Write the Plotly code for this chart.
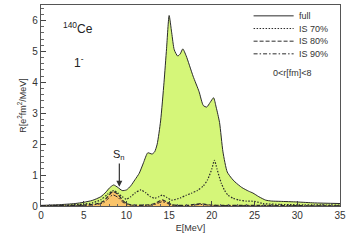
import plotly.graph_objects as go

# Energy grid (MeV) and strength values R [e^2 fm^2 / MeV]
E_full = [0, 2, 4, 5, 6, 7, 7.6, 8.0, 8.5, 9.0, 9.5, 10.0, 10.5, 11.0, 11.5, 12.0, 12.5,
          13.0, 13.3, 13.6, 14.0, 14.4, 14.7, 15.0, 15.3, 15.6, 16.0, 16.3, 16.6, 17.0,
          17.8, 18.5, 19.0, 19.4, 19.8, 20.2, 20.5, 20.9, 21.3, 21.8, 22.3, 22.7, 23.5,
          24.3, 24.8, 25.5, 26.3, 27.0, 28.0, 30.0, 32.0, 35.0]
R_full = [0.02, 0.04, 0.08, 0.12, 0.18, 0.30, 0.45, 0.58, 0.68, 0.60, 0.50, 0.52, 0.65,
          0.85, 1.06, 1.40, 1.72, 1.68, 1.75, 2.00, 2.75, 4.00, 5.10, 6.16, 5.60, 5.05,
          4.85, 4.92, 5.08, 4.85, 4.20, 3.70, 3.25, 3.20, 3.35, 3.50, 3.20, 2.70, 1.75,
          1.10, 0.90, 0.78, 0.60, 0.48, 0.42, 0.30, 0.19, 0.16, 0.15, 0.13, 0.10, 0.08]

E_is70 = [0, 3, 5, 6, 7, 7.8, 8.5, 9.0, 9.5, 10.0, 10.5, 11.0, 11.7, 12.3, 12.8, 13.3,
          13.8, 14.2, 14.7, 15.3, 16.3, 17.0, 17.6, 18.3, 19.0, 19.5, 20.0, 20.3, 20.6,
          21.1, 21.5, 21.9, 22.5, 23.2, 24.0, 25.0, 26.0, 28.0, 30.0, 35.0]
R_is70 = [0.01, 0.03, 0.06, 0.10, 0.20, 0.38, 0.50, 0.42, 0.30, 0.22, 0.30, 0.42, 0.52,
          0.42, 0.30, 0.25, 0.30, 0.35, 0.28, 0.19, 0.26, 0.35, 0.41, 0.50, 0.65, 0.85,
          1.20, 1.48, 1.20, 0.74, 0.50, 0.35, 0.25, 0.19, 0.16, 0.15, 0.08, 0.05, 0.04, 0.03]

E_is80 = [0, 5, 6.5, 7.3, 7.8, 8.4, 9.0, 9.5, 10.0, 10.5, 11.0, 12.0, 13.0, 13.6, 14.2,
          14.8, 15.3, 16.0, 17.0, 18.0, 18.7, 19.3, 20.0, 21.0, 25.0, 30.0, 35.0]
R_is80 = [0.005, 0.03, 0.07, 0.15, 0.30, 0.47, 0.38, 0.20, 0.08, 0.04, 0.03, 0.03, 0.05,
          0.12, 0.20, 0.12, 0.04, 0.02, 0.02, 0.05, 0.08, 0.05, 0.03, 0.02, 0.02, 0.01, 0.005]

E_is90 = [0, 5, 6.5, 7.3, 7.8, 8.4, 9.0, 9.5, 10.0, 11.0, 13.0, 13.6, 14.2, 14.8, 15.3,
          17.0, 18.7, 20.0, 25.0, 30.0, 35.0]
R_is90 = [0.003, 0.02, 0.05, 0.10, 0.22, 0.36, 0.28, 0.14, 0.05, 0.02, 0.03, 0.08, 0.14,
          0.08, 0.03, 0.01, 0.05, 0.02, 0.01, 0.005, 0.003]

x_ticks = [0, 5, 10, 15, 20, 25, 30, 35]
y_ticks = [0, 1, 2, 3, 4, 5, 6]

legend_names = ["full", "IS 70%", "IS 80%", "IS 90%"]

DOT = "1.5px,1.5px"
DASH = "4px,2px"
DASHDOT = "4px,2px,1.5px,2px"
legend_dashes = ["solid", DOT, DASH, DASHDOT]

GREEN = "#d5f679"
ORANGE = "#fac46a"
LINE = "#2b2b2b"
FONT = "Liberation Sans, Arial, sans-serif"

fig = go.Figure()
fig.add_trace(go.Scatter(x=E_full, y=R_full, mode="lines", name="full",
                         line=dict(color=LINE, width=1, shape="spline", smoothing=0.6),
                         fill="tozeroy", fillcolor=GREEN, showlegend=False))
fig.add_trace(go.Scatter(x=E_is80, y=R_is80, mode="lines", name="IS 80%",
                         line=dict(color=LINE, width=1.2, dash=DASH, shape="spline", smoothing=0.6),
                         fill="tozeroy", fillcolor=ORANGE, showlegend=False))
fig.add_trace(go.Scatter(x=E_is70, y=R_is70, mode="lines", name="IS 70%",
                         line=dict(color=LINE, width=1.2, dash=DOT, shape="spline", smoothing=0.6),
                         showlegend=False))
fig.add_trace(go.Scatter(x=E_is90, y=R_is90, mode="lines", name="IS 90%",
                         line=dict(color=LINE, width=1, dash=DASHDOT, shape="spline", smoothing=0.6),
                         showlegend=False))

fig.update_layout(
    width=350, height=247,
    margin=dict(l=41, r=5, t=4, b=41),
    paper_bgcolor="white", plot_bgcolor="white",
    font=dict(family=FONT, size=10, color="#333"),
    showlegend=False,
    xaxis=dict(range=[0, 35], tickvals=x_ticks, ticks="inside", ticklen=5,
               tickcolor="#444", showgrid=False, zeroline=False,
               showline=True, linecolor="#555", linewidth=1.2, mirror=True,
               ticklabeloverflow="allow",
               minor=dict(dtick=1, ticks="inside", ticklen=2, tickcolor="#666"),
               title=dict(text="E[MeV]", font=dict(size=9), standoff=4),
               tickfont=dict(size=10)),
    yaxis=dict(range=[0, 6.5], tickvals=y_ticks, ticks="inside", ticklen=5,
               tickcolor="#444", showgrid=False, zeroline=False,
               showline=True, linecolor="#555", linewidth=1.2, mirror=True,
               minor=dict(dtick=0.2, ticks="inside", ticklen=2.5, tickcolor="#666"),
               title=dict(text="R[e<sup>2</sup>fm<sup>2</sup>/MeV]", font=dict(size=9), standoff=4),
               tickfont=dict(size=10)),
)

# legend drawn as key lines + labels in the top-right corner of the plot
for i, (name, dash) in enumerate(zip(legend_names, legend_dashes)):
    yy = 0.946 - i * 0.063
    fig.add_shape(type="line", xref="paper", yref="paper", x0=0.711, x1=0.845,
                  y0=yy, y1=yy, line=dict(color=LINE, width=1, dash=dash))
    fig.add_annotation(x=0.855, y=yy, xref="paper", yref="paper", text=name,
                       showarrow=False, xanchor="left", yanchor="middle",
                       font=dict(size=9, color="#333"))
fig.add_annotation(x=0.842, y=0.695, xref="paper", yref="paper", text="0&lt;r[fm]&lt;8",
                   showarrow=False, xanchor="center", font=dict(size=9, color="#333"))

fig.add_annotation(x=2.3, y=5.75, xref="x", yref="y", text="<sup>140</sup>Ce",
                   showarrow=False, xanchor="left", font=dict(size=12, color="#222"))
fig.add_annotation(x=3.6, y=4.65, xref="x", yref="y", text="1<sup>-</sup>",
                   showarrow=False, xanchor="left", font=dict(size=12, color="#222"))
fig.add_annotation(x=9.17, y=0.62, xref="x", yref="y", ax=9.17, ay=1.65,
                   axref="x", ayref="y", text="S<sub>n</sub>", showarrow=True,
                   arrowhead=2, arrowsize=1, arrowwidth=1.2, arrowcolor="#333",
                   font=dict(size=11, color="#222"))

fig.write_html("out.html", post_script="document.body.style.margin='0';",
               config={"displayModeBar": False})
